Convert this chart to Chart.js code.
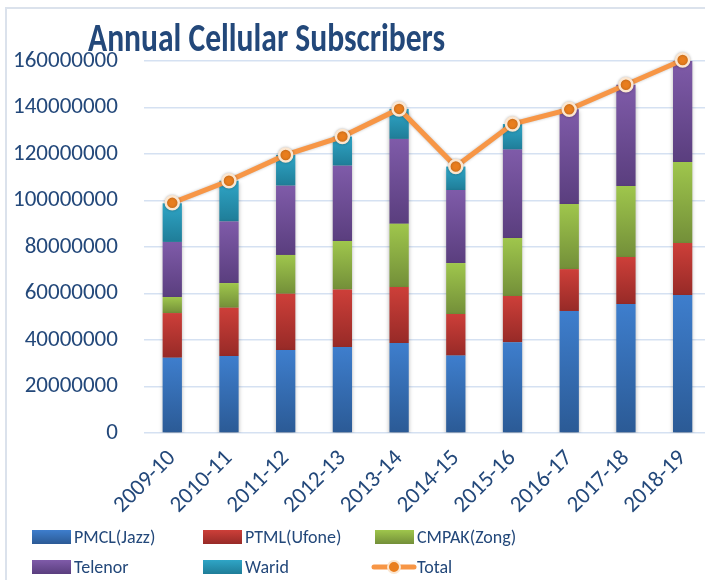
<!DOCTYPE html>
<html>
<head>
<meta charset="utf-8">
<script src="https://cdn.jsdelivr.net/npm/chart.js@4/dist/chart.umd.min.js"></script>
<style>
  html, body { margin: 0; padding: 0; background: #fff; overflow: hidden; width: 705px; height: 580px; }
  #frame { position: absolute; left: 5px; top: 7px; width: 900px; height: 900px; border-left: 2px solid #dbe2ec; border-top: 2px solid #dbe2ec; }
  #c { position: absolute; left: 0; top: 0; }
</style>
</head>
<body>
<div id="frame"></div>
<canvas id="c" width="720" height="580"></canvas>
<script>
const categories = ['2009-10','2010-11','2011-12','2012-13','2013-14','2014-15','2015-16','2016-17','2017-18','2018-19'];
const seriesNames = ['PMCL(Jazz)','PTML(Ufone)','CMPAK(Zong)','Telenor','Warid','Total'];
const jazz    = [32400000, 33100000, 35700000, 37000000, 38700000, 33300000, 39100000, 52500000, 55500000, 59400000];
const ufone   = [19200000, 20800000, 24200000, 24700000, 24100000, 17900000, 19800000, 18000000, 20200000, 22300000];
const zong    = [6900000, 10600000, 16700000, 20900000, 27200000, 21900000, 25000000, 28000000, 30500000, 34900000];
const telenor = [23700000, 26500000, 29800000, 32400000, 36500000, 31400000, 38000000, 40700000, 43600000, 43800000];
const warid   = [16600000, 17500000, 13200000, 12500000, 12900000, 10100000, 11000000, 0, 0, 0];
const total   = [99000000, 108500000, 119600000, 127500000, 139400000, 114600000, 132900000, 139200000, 149800000, 160400000];
const yTickMax = 160000000;
const yTickStep = 20000000;

const barSeries = [jazz, ufone, zong, telenor, warid];
const gradColors = [
  ['#3e7ecd', '#2b5a95'],
  ['#cd3f39', '#972a27'],
  ['#9fc64c', '#738f39'],
  ['#7f5ba9', '#5a3e7e'],
  ['#2fa5c6', '#1f7d98']
];
const textColor = '#23487a';
const FONT = 'Carlito, Calibri, Lato, sans-serif';
const TITLE_TEXT = 'Annual Cellular Subscribers';

function segGradient(dsIndex) {
  return function(ctx) {
    const chart = ctx.chart;
    const cols = gradColors[dsIndex];
    if (ctx.type !== 'data' || !chart.scales || !chart.scales.y) return cols[0];
    const i = ctx.dataIndex;
    let base = 0;
    for (let k = 0; k < dsIndex; k++) base += barSeries[k][i];
    const top = base + barSeries[dsIndex][i];
    const y = chart.scales.y;
    const y0 = y.getPixelForValue(top), y1 = y.getPixelForValue(base);
    if (!isFinite(y0) || !isFinite(y1) || y0 === y1) return cols[0];
    const g = chart.ctx.createLinearGradient(0, y0, 0, y1);
    g.addColorStop(0, cols[0]);
    g.addColorStop(1, cols[1]);
    return g;
  };
}

const datasets = barSeries.map((arr, k) => ({
  type: 'bar',
  label: seriesNames[k],
  data: arr,
  backgroundColor: segGradient(k),
  borderWidth: 0,
  stack: 'ops',
  order: 1,
  categoryPercentage: 1,
  barPercentage: 0.34
}));
datasets.push({
  type: 'line',
  label: seriesNames[5],
  data: total,
  stack: 'total',
  order: 0,
  borderColor: '#f79646',
  borderWidth: 5,
  pointRadius: 6.5,
  pointBackgroundColor: '#e97e1e',
  pointBorderColor: '#fbe6d0',
  pointBorderWidth: 2.5,
  tension: 0,
  clip: false
});

const shadowPlugin = {
  id: 'shadows',
  beforeDatasetDraw(chart, args) {
    const ctx = chart.ctx;
    ctx.save();
    const ds = chart.data.datasets[args.index];
    if (ds.type === 'bar') {
      ctx.shadowColor = 'rgba(0,0,0,0.28)';
      ctx.shadowBlur = 4;
      ctx.shadowOffsetX = 0;
      ctx.shadowOffsetY = 2;
    } else {
      ctx.shadowColor = 'rgba(0,0,0,0.25)';
      ctx.shadowBlur = 3;
    }
  },
  afterDatasetDraw(chart) {
    chart.ctx.restore();
  }
};

// Title placed left-ish and horizontally condensed like the original
const titleShift = {
  id: 'titleShift',
  afterLayout(chart) {
    const tb = chart.titleBlock;
    if (!tb) return;
    tb.left = 88;
    if (!tb._wrapped) {
      const orig = tb.draw.bind(tb);
      tb.draw = function() {
        const ctx = this.ctx;
        ctx.save();
        ctx.font = 'bold 40px ' + FONT;
        const w = ctx.measureText(TITLE_TEXT).width;
        const sx = w > 0 ? 357 / w : 1;
        ctx.translate(this.left, 0);
        ctx.scale(sx, 1);
        ctx.translate(-this.left, 0);
        orig();
        ctx.restore();
      };
      tb._wrapped = true;
    }
  }
};

const gridLegend = {
  id: 'gridLegend',
  afterDraw(chart) {
    const ctx = chart.ctx;
    const colX = [32, 203, 375];
    const rowY = [537, 567];
    ctx.save();
    ctx.font = '18px ' + FONT;
    ctx.textBaseline = 'middle';
    ctx.textAlign = 'left';
    chart.data.datasets.forEach((ds, k) => {
      const x = colX[k % 3], y = rowY[Math.floor(k / 3)];
      if (ds.type === 'bar') {
        const g = ctx.createLinearGradient(0, y - 7, 0, y + 7);
        g.addColorStop(0, gradColors[k][0]);
        g.addColorStop(1, gradColors[k][1]);
        ctx.fillStyle = g;
        ctx.fillRect(x, y - 7, 39, 14);
      } else {
        ctx.strokeStyle = '#f79646';
        ctx.lineWidth = 5;
        ctx.lineCap = 'round';
        ctx.beginPath();
        ctx.moveTo(x - 1, y);
        ctx.lineTo(x + 39, y);
        ctx.stroke();
        ctx.beginPath();
        ctx.arc(x + 19, y, 6, 0, Math.PI * 2);
        ctx.fillStyle = '#e97e1e';
        ctx.fill();
        ctx.lineWidth = 2;
        ctx.strokeStyle = '#fbe6d0';
        ctx.stroke();
      }
      ctx.fillStyle = textColor;
      ctx.fillText(ds.label, x + 42, y + 1);
    });
    ctx.restore();
  }
};

new Chart(document.getElementById('c'), {
  data: { labels: categories, datasets: datasets },
  plugins: [shadowPlugin, titleShift, gridLegend],
  options: {
    responsive: false,
    animation: false,
    devicePixelRatio: 1,
    layout: { padding: { left: 0, right: 5, top: 0, bottom: 57 } },
    plugins: {
      legend: { display: false },
      tooltip: { enabled: false },
      title: {
        display: true,
        text: TITLE_TEXT,
        align: 'start',
        color: textColor,
        font: { family: FONT, size: 40, weight: 'bold', lineHeight: 0.95 },
        padding: { top: 22, bottom: 1 }
      }
    },
    scales: {
      x: {
        stacked: true,
        offset: true,
        grid: { display: false },
        border: { display: false },
        ticks: {
          color: textColor,
          font: { family: FONT, size: 23 },
          minRotation: 45,
          maxRotation: 45,
          autoSkip: false,
          padding: 4
        }
      },
      y: {
        stacked: true,
        min: 0,
        max: yTickMax,
        grid: { color: '#d5e1f2', lineWidth: 1.5, drawTicks: false },
        border: { display: false },
        afterFit(scale) { scale.width = scale.width - 13; },
        ticks: {
          stepSize: yTickStep,
          color: textColor,
          font: { family: FONT, size: 23 },
          padding: 26,
          callback: v => String(v)
        }
      }
    }
  }
});
</script>
</body>
</html>
